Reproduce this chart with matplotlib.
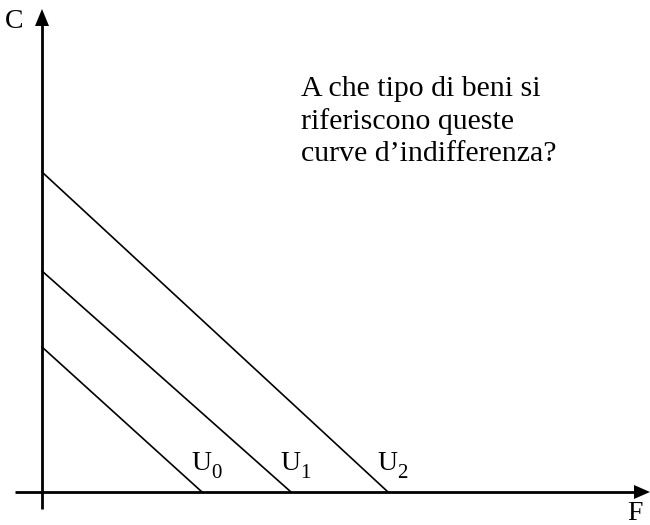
import matplotlib
matplotlib.use("Agg")
import matplotlib.pyplot as plt
from matplotlib.patches import Polygon

plt.rcParams['font.family'] = ['Liberation Serif', 'DejaVu Serif']

# Indifference curves (perfect substitutes): intercepts on F and C axes
curve_names = ['U', 'U', 'U']
curve_subs = ['0', '1', '2']
f_intercepts = [160, 249, 346]
c_intercepts = [145, 221, 320]

question = "A che tipo di beni si\nriferiscono queste\ncurve d\u2019indifferenza?"

W, H = 650, 525
fig = plt.figure(figsize=(W / 100, H / 100), dpi=100)
ax = fig.add_axes([0, 0, 1, 1])
ax.set_xlim(-42, W - 42)
ax.set_ylim(-(H - 492), 492)
ax.axis('off')

# Axes with arrow heads
ax.plot([-27, 596], [0, 0], color='black', lw=2.0, solid_capstyle='butt')
ax.plot([0, 0], [-17, 470], color='black', lw=2.0, solid_capstyle='butt')
ax.add_patch(Polygon([[592, -7], [608, 0], [592, 7]], closed=True,
                     color='black', lw=0))
ax.add_patch(Polygon([[-7, 466], [0, 483], [7, 466]], closed=True,
                     color='black', lw=0))

for name, sub, fx, cy in zip(curve_names, curve_subs, f_intercepts, c_intercepts):
    ax.plot([0, fx], [cy, 0], color='black', lw=1.2)
    ax.text(fx - 11, 22, name, fontsize=20, ha='left', va='baseline')
    ax.annotate(sub, xy=(fx - 11, 22), xytext=(14.6, -6),
                textcoords='offset points', fontsize=15,
                ha='left', va='baseline')

ax.text(-37, 464, 'C', fontsize=20, ha='left', va='baseline')
ax.text(585, -28, 'F', fontsize=20, ha='left', va='baseline')

ax.text(259, 416, question, fontsize=21.5, ha='left', va='top',
        linespacing=1.3)

fig.savefig('out.png', dpi=100)
